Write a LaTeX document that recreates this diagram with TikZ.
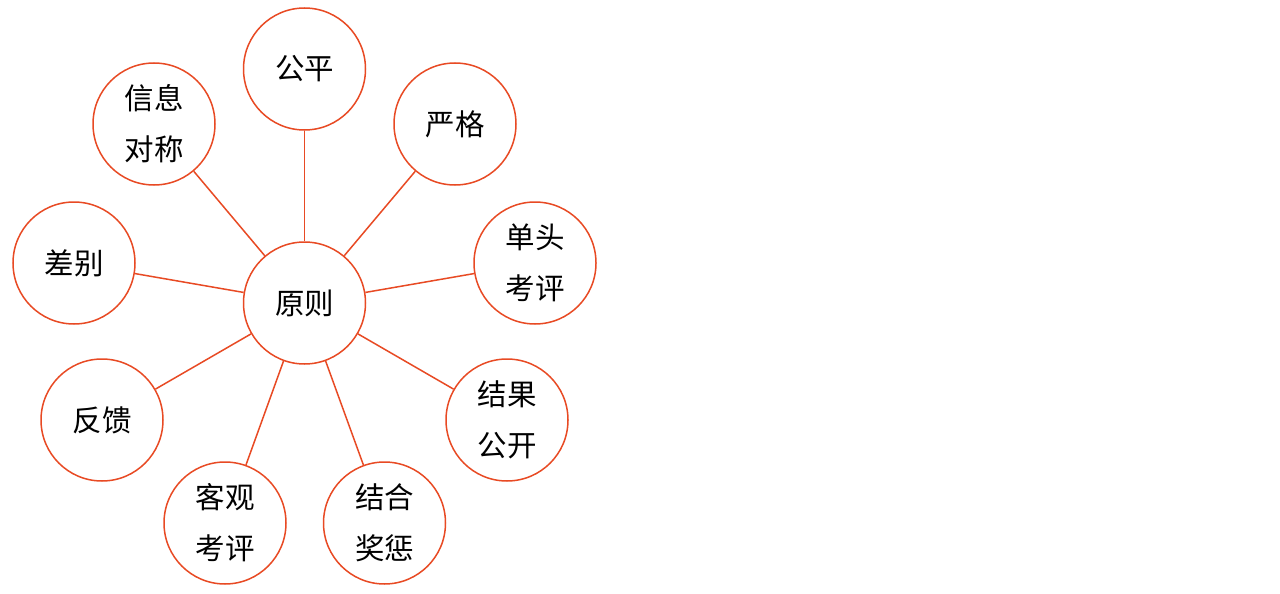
\documentclass[tikz,border=0pt]{standalone}
\usepackage{fontspec}
\newfontfamily\cjk{Noto Sans CJK SC}
\definecolor{ring}{HTML}{E84A24}
\begin{document}
\begin{tikzpicture}[x=1pt,y=-1pt,
  bub/.style={circle,draw=ring,line width=1.5pt,minimum size=122pt,inner sep=0pt,
    font=\cjk\fontsize{29.5}{51}\selectfont,align=center,text=black},
  spoke/.style={draw=ring,line width=1.5pt}]
\useasboundingbox (0,0) rectangle (1280,594);
\fill[white] (0,0) rectangle (1280,594);
\node[bub] (c) at (304.5,303) {原则};
\node[bub] (a1) at (304.5,69) {公平};
\node[bub] (a2) at (455,124) {严格};
\node[bub] (a3) at (535,263) {单头\\考评};
\node[bub] (a4) at (507,420) {结果\\公开};
\node[bub] (a5) at (384.5,523) {结合\\奖惩};
\node[bub] (a6) at (225,523) {客观\\考评};
\node[bub] (a7) at (102,420) {反馈};
\node[bub] (a8) at (74,263) {差别};
\node[bub] (a9) at (154,124) {信息\\对称};
\foreach \n in {a1,a2,a3,a4,a5,a6,a7,a8,a9}
  \draw[spoke] (c) -- (\n);
\end{tikzpicture}
\end{document}
